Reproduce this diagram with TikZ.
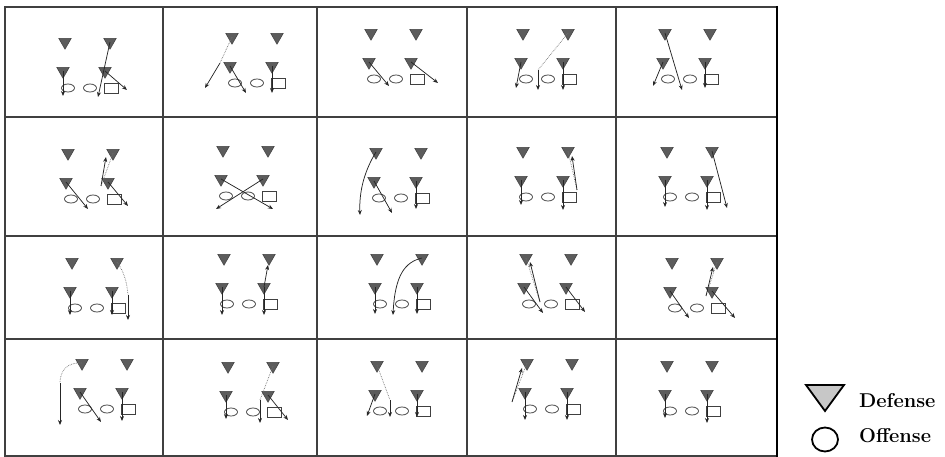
\documentclass[tikz,border=0pt]{standalone}
\usetikzlibrary{shapes.geometric,arrows.meta}

\tikzset{
  dfn/.style={regular polygon, regular polygon sides=3, shape border rotate=180,
    draw=black!75, fill=black!64, line width=0.5pt, inner sep=0pt, minimum size=14.5pt},
  offn/.style={ellipse, draw=black!75, fill=white, line width=0.75pt, inner sep=0pt,
    minimum width=13pt, minimum height=8pt},
  qbox/.style={rectangle, draw=black!75, fill=white, line width=0.75pt, inner sep=0pt,
    minimum width=14pt, minimum height=10pt},
  route/.style={-{Stealth[length=5pt,width=4pt]}, line width=0.75pt, black!85},
  dotroute/.style={densely dotted, line width=0.7pt, black!55},
  cellline/.style={line width=1.2pt, black!75}
}

% one set of players: #1 prefix, (#2,#3) top left defender
\newcommand\formation[3]{%
  \begin{scope}[shift={(#2,#3)}]
    \node[dfn] (#1tl) at (0,0) {};
    \node[dfn] (#1tr) at (45,0) {};
    \node[dfn] (#1ml) at (-2,29) {};
    \node[dfn] (#1mr) at (40,29) {};
    \node[offn] (#1oa) at (3,46) {};
    \node[offn] (#1ob) at (25,46) {};
    \node[qbox] (#1sq) at (46,46) {};
  \end{scope}}

\begin{document}
\begin{tikzpicture}[x=1pt, y=-1pt]
    \useasboundingbox (0,0) rectangle (945,457);

    % Table
    \draw[cellline] (5,7) rectangle (777,456);
    \foreach \xx in {163,317,467,616} \draw[cellline] (\xx,7) -- (\xx,456);
    \foreach \yy in {117,236,339} \draw[cellline] (5,\yy) -- (777,\yy);
    \draw[line width=2.5pt, black] (777,6) -- (777,457);

    % Row 1
    \formation{a}{65}{42}
    \coordinate (a1) at (63,96);
    \coordinate (a2) at (98,97);
    \coordinate (a3) at (127,90);
    \draw[route] (aml.center) -- (a1);
    \draw[route] (atr.center) -- (a2);
    \draw[route] (amr.center) -- (a3);

    \formation{b}{232}{37}
    \coordinate (b1) at (220,63);
    \coordinate (b2) at (205,88);
    \coordinate (b3) at (246,93);
    \coordinate (b4) at (272,93);
    \draw[dotroute] (btl.center) -- (b1);
    \draw[route] (b1) -- (b2);
    \draw[route] (bml.center) -- (b3);
    \draw[route] (bmr.center) -- (b4);

    \formation{c}{371}{33}
    \coordinate (c1) at (389,86);
    \coordinate (c2) at (438,83);
    \draw[route] (cml.center) -- (c1);
    \draw[route] (cmr.center) -- (c2);

    \formation{d}{523}{33}
    \coordinate (d1) at (538,70);
    \coordinate (d2) at (538,90);
    \coordinate (d3) at (516,88);
    \coordinate (d4) at (563,90);
    \draw[dotroute] (dtr.center) -- (d1);
    \draw[route] (d1) -- (d2);
    \draw[route] (dml.center) -- (d3);
    \draw[route] (dmr.center) -- (d4);

    \formation{e}{665}{33}
    \coordinate (e1) at (682,90);
    \coordinate (e2) at (653,86);
    \coordinate (e3) at (705,88);
    \draw[route] (etl.center) -- (e1);
    \draw[route] (eml.center) -- (e2);
    \draw[route] (emr.center) -- (e3);

    % Row 2
    \formation{f}{68}{153}
    \coordinate (f1) at (101,186);
    \coordinate (f2) at (106,157);
    \coordinate (f3) at (88,209);
    \coordinate (f4) at (128,206);
    \draw[dotroute] (ftr.center) -- (f1);
    \draw[route] (f1) -- (f2);
    \draw[route] (fml.center) -- (f3);
    \draw[route] (fmr.center) -- (f4);

    \formation{g}{223}{150}
    \coordinate (g1) at (273,209);
    \coordinate (g2) at (216,209);
    \draw[route] (gml.center) -- (g1);
    \draw[route] (gmr.center) -- (g2);

    \formation{h}{376}{152}
    \coordinate (h1) at (360,215);
    \coordinate (h2) at (392,213);
    \coordinate (h3) at (416,209);
    \draw[route] (htl.center) .. controls (365,170) and (359,190) .. (h1);
    \draw[route] (hml.center) -- (h2);
    \draw[route] (hmr.center) -- (h3);

    \formation{i}{523}{151}
    \coordinate (i1) at (577,190);
    \coordinate (i2) at (572,156);
    \coordinate (i3) at (521,205);
    \coordinate (i4) at (563,210);
    \draw[dotroute] (itr.center) -- (i1);
    \draw[route] (i1) -- (i2);
    \draw[route] (iml.center) -- (i3);
    \draw[route] (imr.center) -- (i4);

    \formation{j}{667}{151}
    \coordinate (j1) at (727,208);
    \coordinate (j2) at (665,207);
    \coordinate (j3) at (707,210);
    \draw[route] (jtr.center) -- (j1);
    \draw[route] (jml.center) -- (j2);
    \draw[route] (jmr.center) -- (j3);

    % Row 3
    \formation{k}{72}{262}
    \coordinate (k1) at (128,295);
    \coordinate (k2) at (128,320);
    \coordinate (k3) at (70,315);
    \coordinate (k4) at (112,315);
    \draw[dotroute] (ktr.center) .. controls (124,272) and (127,282) .. (k1);
    \draw[route] (k1) -- (k2);
    \draw[route] (kml.center) -- (k3);
    \draw[route] (kmr.center) -- (k4);

    \formation{l}{224}{258}
    \coordinate (l1) at (268,265);
    \coordinate (l2) at (222,315);
    \coordinate (l3) at (264,315);
    \draw[route] (lmr.center) -- (l1);
    \draw[route] (lml.center) -- (l2);
    \draw[route] (lmr.center) -- (l3);

    \formation{m}{377}{258}
    \coordinate (m1) at (393,315);
    \coordinate (m2) at (375,314);
    \coordinate (m3) at (417,314);
    \draw[route] (mtr.center) .. controls (405,262) and (395,275) .. (m1);
    \draw[route] (mml.center) -- (m2);
    \draw[route] (mmr.center) -- (m3);

    \formation{n}{526}{258}
    \coordinate (n1) at (540,302);
    \coordinate (n2) at (530,262);
    \coordinate (n3) at (543,313);
    \coordinate (n4) at (585,312);
    \draw[dotroute] (ntl.center) -- (n1);
    \draw[route] (n1) -- (n2);
    \draw[route] (nml.center) -- (n3);
    \draw[route] (nmr.center) -- (n4);

    \formation{o}{672}{262}
    \coordinate (o1) at (706,296);
    \coordinate (o2) at (713,267);
    \coordinate (o3) at (689,318);
    \coordinate (o4) at (735,318);
    \draw[dotroute] (otr.center) -- (o1);
    \draw[route] (o1) -- (o2);
    \draw[route] (oml.center) -- (o3);
    \draw[route] (omr.center) -- (o4);

    % Row 4
    \formation{p}{82}{363}
    \coordinate (p1) at (60,383);
    \coordinate (p2) at (60,425);
    \coordinate (p3) at (101,422);
    \coordinate (p4) at (122,421);
    \draw[dotroute] (ptl.center) .. controls (68,362) and (60,370) .. (p1);
    \draw[route] (p1) -- (p2);
    \draw[route] (pml.center) -- (p3);
    \draw[route] (pmr.center) -- (p4);

    \formation{q}{228}{366}
    \coordinate (q1) at (260,400);
    \coordinate (q2) at (260,423);
    \coordinate (q3) at (226,419);
    \coordinate (q4) at (288,420);
    \draw[dotroute] (qtr.center) -- (q1);
    \draw[route] (q1) -- (q2);
    \draw[route] (qml.center) -- (q3);
    \draw[route] (qmr.center) -- (q4);

    \formation{r}{377}{365}
    \coordinate (r1) at (390,400);
    \coordinate (r2) at (390,417);
    \coordinate (r3) at (367,416);
    \coordinate (r4) at (417,417);
    \draw[dotroute] (rtl.center) -- (r1);
    \draw[route] (r1) -- (r2);
    \draw[route] (rml.center) -- (r3);
    \draw[route] (rmr.center) -- (r4);

    \formation{s}{527}{363}
    \coordinate (s1) at (512,402);
    \coordinate (s2) at (522,368);
    \coordinate (s3) at (525,420);
    \coordinate (s4) at (567,420);
    \draw[dotroute] (stl.center) -- (s1);
    \draw[route] (s1) -- (s2);
    \draw[route] (sml.center) -- (s3);
    \draw[route] (smr.center) -- (s4);

    \formation{t}{667}{365}
    \coordinate (t1) at (665,418);
    \coordinate (t2) at (707,423);
    \draw[route] (tml.center) -- (t1);
    \draw[route] (tmr.center) -- (t2);

    % Legend
    \draw[fill=black!22, line width=1.8pt] (806,385) -- (844,385) -- (825,411) -- cycle;
    \node[ellipse, draw, line width=1.8pt, minimum width=26pt, minimum height=24pt,
      inner sep=0pt] (lego) at (825,439.5) {};
    \node[anchor=base west, inner sep=0pt, font=\fontsize{20}{22}\selectfont\bfseries]
      (legd) at (859,407) {Defense};
    \node[anchor=base west, inner sep=0pt, font=\fontsize{20}{22}\selectfont\bfseries]
      (lego2) at (859,442) {Offense};
\end{tikzpicture}
\end{document}
